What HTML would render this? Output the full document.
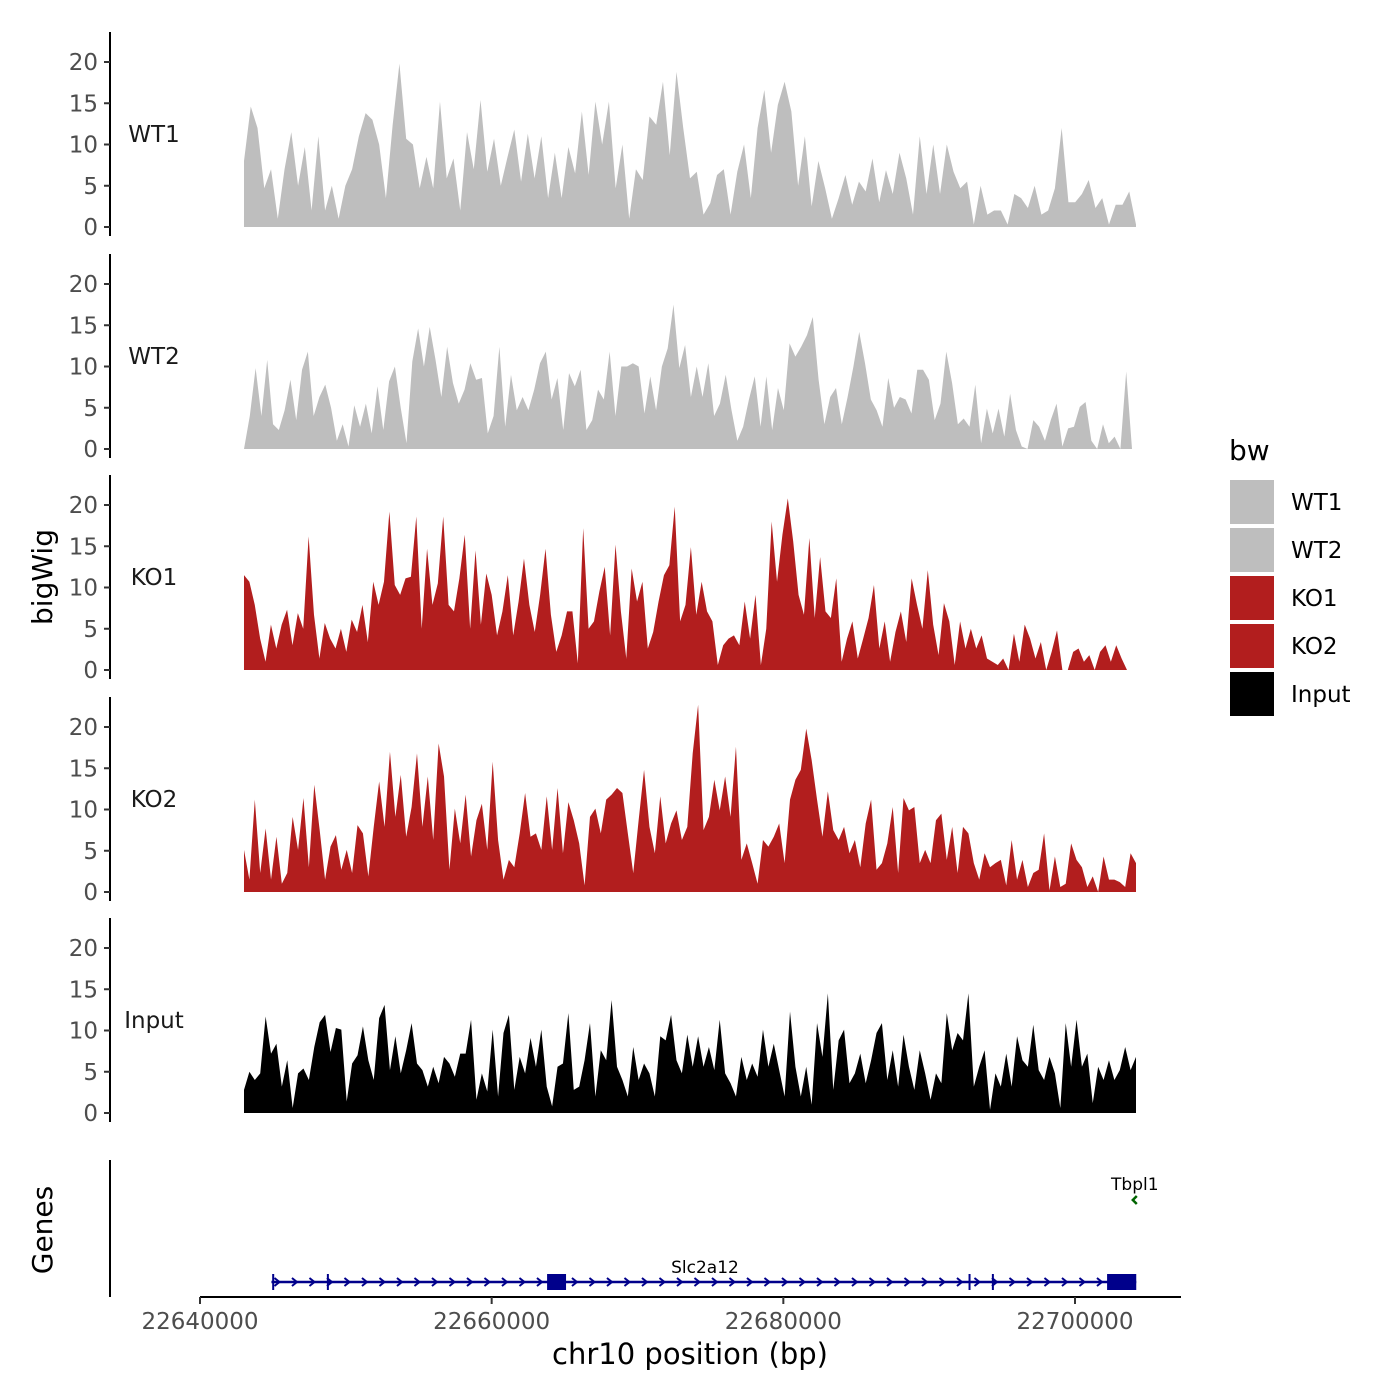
<!DOCTYPE html>
<html><head><meta charset="utf-8"><style>
html,body{margin:0;padding:0;background:#fff;}
svg{display:block;font-family:"DejaVu Sans","Liberation Sans",sans-serif;}
</style></head><body>
<svg id="chart" width="1400" height="1400" viewBox="0 0 1400 1400" xmlns="http://www.w3.org/2000/svg">
<g id="tracks"></g>
<g id="genes"></g>
<text x="52" y="577" font-size="28" text-anchor="middle" transform="rotate(-90 52 577)">bigWig</text>
<text x="52" y="1230" font-size="28" text-anchor="middle" transform="rotate(-90 52 1230)">Genes</text>
<text x="690" y="1364" font-size="29" text-anchor="middle">chr10 position (bp)</text>
<g id="legend">
<text x="1229" y="460" font-size="28">bw</text>
</g>
</svg>
<script>
const trackNames = ["WT1","WT2","KO1","KO2","Input"];
const trackColors = ["#bebebe","#bebebe","#b21e1e","#b21e1e","#000000"];
const trackStart = [22643017,22643017,22643017,22643017,22643017];
const trackEnd = [22704183,22703909,22703566,22704183,22704183];
const yTicks = [0,5,10,15,20];
const xTicks = [22640000,22660000,22680000,22700000];
const wt1 = [8,14.6,12,4.7,7,1,7,11.5,5,9.7,2,11,2,5,1,5,7,11,13.8,13,10,3.5,12.4,19.8,10.7,10,4.7,8.5,4.7,15.2,5.9,8.3,2,11.5,7,15.4,6.7,10.7,5,8.5,11.8,5.5,11.3,5.9,11,3.5,9,3.5,9.7,6.5,14,6.3,15.2,10,15.2,4.7,10,1,7,5.7,13.4,12.4,17.6,8.7,18.8,12,5.9,6.7,1.5,2.9,6.3,7,1.5,6.7,10,3.5,12,16.6,9,14.8,17.6,14,5,11,2.5,8,4.7,1,3.5,6.3,2.7,5.5,4.3,8.3,3,6.9,4,9,5.9,1.5,11,4,10,4,10,6.7,4.7,5.5,0.3,5,1.5,2,2,0.3,4,3.5,2.3,5,1.5,2,4.7,12,3,3,4,5.7,2.3,3.5,0.3,2.7,2.7,4.3,0.3];
const wt2 = [0,4,9.8,4,10.8,3,2.3,4.7,8.4,3.5,9.6,11.8,4,6.3,7.8,5,1,3,0.3,5.3,2.7,5.5,1.9,7.6,2.3,8.2,10,5,0.7,10.6,14.6,10,14.8,10.8,6.3,12.4,8,5.5,7.2,10.4,8.4,8.6,1.9,4,12.4,2.7,9,4.7,6.3,4.7,7.2,10.4,11.8,6,8.6,2.3,9.2,7.6,9.6,2.3,3.5,7.2,6,11.8,4,10,10,10.4,10,4.3,8.8,4.7,10,12.2,17.5,9.8,12.6,6.3,10,6.3,10.4,4,5.5,9,4.7,1,2.7,6,8.8,2.7,8.8,2.3,7.4,4.7,12.8,11.2,12.4,13.8,16,8.4,3,6.3,7.4,3,6.3,10,14.2,10.4,6,4.7,2.7,8.6,5,6.3,6,4.3,9.6,9.6,8.4,3.5,5.5,11.8,8,3,3.7,2.7,7.8,0.7,4.9,1.9,4.9,1.5,6.7,2.3,0.3,0,3.5,2.7,1,3.5,5.5,0.3,2.5,2.7,5.1,5.7,1,0,3,0.7,1.5,0,9.4,0];
const ko1 = [11.5,10.7,7.9,3.8,1,5.5,2.6,5.5,7.3,3,6.9,5,16.2,6.7,1.4,5.7,3.8,2.6,5,2.2,6.1,4.6,7.9,3.4,10.7,7.9,10.7,19.2,10.3,9.1,11.1,11.3,18.6,5,14.7,7.9,10.5,18.6,7.9,7.1,11.1,16.4,5,14.5,5.5,11.7,9.1,4.2,7.1,11.5,4.2,8.3,13.5,7.9,4.6,9.1,14.7,6.7,2.2,4.2,7.1,7.1,0.8,17.2,5,5.9,9.5,12.5,4.2,15.2,7.1,1.4,12.3,8.3,10.7,2.6,4.6,8.3,11.5,12.7,19.8,5.9,7.9,14.9,6.7,10.7,7.1,5.9,0.6,3,3.8,4.2,3,8.3,3.8,9.1,0.6,5,18,10.7,16.4,20.8,15.6,9.1,6.7,16,6.3,13.7,7.1,6.3,11.1,1,3.8,5.9,1.4,3.8,6.3,10.3,2.6,5.9,1,4.6,7.1,3.4,11.1,7.9,5,12.1,5.5,1.8,8.1,5.9,0.6,5.9,2.6,5,2.6,4.2,1.4,1,0.6,1.4,0,4.4,1,5.5,3.8,1.4,3.4,0,2.2,4.8,0,0,2.2,2.6,1,1.8,0,2.2,3,1,3,1.4,0];
const ko2 = [5.1,1.5,11.2,2.3,7.7,1.5,6.7,1,2.3,9.1,5.1,11.4,3,13,7.5,1.5,5.5,6.9,2.7,5.1,2.3,8.1,7.1,1.9,7.9,13.4,7.9,17,9.1,14.2,6.7,10.3,16.8,7.9,14,6.3,18,14,2.7,10.1,5.9,11.8,4.3,8.7,10.7,5.1,15.8,6.3,1.5,3.9,3,7.1,12,6.7,7.1,5.1,11.6,5.1,12.6,4.7,10.9,8.7,5.9,0.8,9.1,10.1,7.1,11.2,11.8,12.6,12,7.1,2.3,8.7,14.8,7.9,4.7,11.6,5.9,8.3,9.9,6.3,7.9,16.8,22.7,7.5,9.1,13.6,9.9,14,9.1,17.6,3.9,5.9,3.5,1,6.3,5.5,6.7,8.3,3.5,11.2,13.6,14.8,19.8,16,11.2,6.7,12.2,7.5,6.3,7.9,4.7,6.3,3,8.3,11.2,2.7,3.5,5.9,10.3,2.3,11.4,9.9,10.3,3.5,5.1,3.5,8.7,9.5,3.9,7.9,2.3,7.9,7.1,3.5,1.5,4.7,3,3.5,3.9,0.8,6.3,1.5,3.9,0.6,2.3,2.7,7.1,0.2,4.3,0.6,1,5.9,3.9,3,0.6,1.9,0,4.3,1.5,1.5,1.2,0.6,4.7,3.5];
const input = [2.8,5,4,4.8,11.7,7.2,8.4,3.2,6.4,0.6,4.8,5.4,4,8,11,11.9,7.4,10.3,10.1,1.4,6,7,10.5,6.4,4,11.5,13.1,5.2,9.3,4.8,7.6,10.9,6,5.2,3.2,5.6,3.6,6.8,6,4.4,7.2,7.2,11.3,1.6,4.8,2.6,10.1,2,9.7,11.9,2.8,6.8,4.8,9.1,5.6,10.1,3.2,0.8,5.6,6,12.1,2.8,3.2,6.4,10.9,2,7.6,6.4,13.7,5.6,4,2,8,4,6,4.8,2,9.3,8.8,11.9,6.4,4.8,9.5,5.6,9.3,5.6,8,5.2,11.3,4.8,3.6,2,6.8,4,6,4.4,10.1,5.6,8.4,5.2,2,12.3,5.6,2,5.6,1,10.9,6.8,14.5,2.8,8.8,10.1,3.6,4.8,7.2,3.6,6.4,9.7,10.9,4,7.6,3.2,9.5,5.6,2.8,7.6,4.8,1.6,4.8,3.6,12.1,7.6,9.7,8.8,14.5,3.2,5.6,7.6,0.4,4.8,3.2,7.2,3.2,9.3,6.4,5.6,10.7,5.2,4,6.8,4.8,0.6,10.9,5.6,11.3,5.6,7.2,1.2,5.6,4,6.4,4,5.2,8,5.2,6.8];
const trackValues = [wt1,wt2,ko1,ko2,input];
const legendLabels = ["WT1","WT2","KO1","KO2","Input"];
const legendColors = ["#bebebe","#bebebe","#b21e1e","#b21e1e","#000000"];
const geneName = "Slc2a12";
const geneStart = 22644900, geneEnd = 22704200;
const exonStarts = [22644950,22648700,22663800,22692700,22694300,22702200];
const exonEnds = [22645050,22648750,22665100,22692750,22694350,22704200];
const gene2Name = "Tbpl1", gene2Pos = 22704100;

const NS = "http://www.w3.org/2000/svg";
const xScale = bp => 200 + (bp - 22640000) / 60000 * 875;
const zeros = [227, 449, 670, 892, 1113];
const pxPerUnit = 8.25;
function mk(tag, attrs, parent){ const e=document.createElementNS(NS,tag); for(const k in attrs) e.setAttribute(k,attrs[k]); parent.appendChild(e); return e; }

const tracks = document.getElementById('tracks');
trackNames.forEach((name, t) => {
  const z = zeros[t];
  const yScale = v => z - v * pxPerUnit;
  const g = mk('g', {}, tracks);
  
  
  const vals = trackValues[t];
  const n = vals.length;
  let d = 'M' + xScale(trackStart[t]) + ',' + z;
  vals.forEach((v, i) => {
    const bp = trackStart[t] + (trackEnd[t] - trackStart[t]) * i / (n - 1);
    d += ' L' + xScale(bp).toFixed(2) + ',' + yScale(v).toFixed(2);
  });
  d += ' L' + xScale(trackEnd[t]) + ',' + z + ' Z';
  const area = mk('path', {d: d, fill: trackColors[t], stroke: 'none'}, g);
  
  
  const axis = mk('line', {x1:110, x2:110, y1: z + 9, y2: z - 195, stroke:'#000', 'stroke-width':2}, g);
  
  
  yTicks.forEach(tv => {
    const y = yScale(tv);
    const tk = mk('line', {x1:104, x2:110, y1:y, y2:y, stroke:'#333', 'stroke-width':2}, g);
    
    
    const lb = mk('text', {x:98, y:y + 8, 'font-size':23, fill:'#4d4d4d', 'text-anchor':'end'}, g);
    lb.textContent = tv;
    
    
  });
  const tl = mk('text', {x:154, y: z - 85, 'font-size':23, 'text-anchor':'middle', fill:'#1a1a1a'}, g);
  tl.textContent = name;
  
  
});

const genes = document.getElementById('genes');
const gl = mk('line', {x1:110, x2:110, y1:1160, y2:1297, stroke:'#000', 'stroke-width':2}, genes);


const xa = mk('line', {x1:200, x2:1181, y1:1297, y2:1297, stroke:'#000', 'stroke-width':2}, genes);


xTicks.forEach(tv => {
  const x = xScale(tv);
  const tk = mk('line', {x1:x, x2:x, y1:1297, y2:1304, stroke:'#333', 'stroke-width':2}, genes);
  
  
  const lb = mk('text', {x:x, y:1329, 'font-size':23, fill:'#4d4d4d', 'text-anchor':'middle'}, genes);
  lb.textContent = tv;
  
  
});
const gy = 1282;
const gline = mk('line', {x1:xScale(geneStart), x2:xScale(geneEnd), y1:gy, y2:gy, stroke:'#00008b', 'stroke-width':2.5}, genes);


for (let x = xScale(geneStart) + 6; x < xScale(geneEnd) - 4; x += 17.5) {
  const ch = mk('path', {d:`M${x-3},${gy-4} L${x+2},${gy} L${x-3},${gy+4}`, fill:'none', stroke:'#00008b', 'stroke-width':2}, genes);
  
  
}
exonStarts.forEach((s, i) => {
  const x1 = xScale(s), x2 = Math.max(xScale(exonEnds[i]), x1 + 2);
  const r = mk('rect', {x:x1, y:gy - 8, width:x2 - x1, height:16, fill:'#00008b'}, genes);
  
  
});
const gn = mk('text', {x:705, y:1273, 'font-size':17, 'text-anchor':'middle'}, genes);
gn.textContent = geneName;


const g2 = mk('text', {x:xScale(gene2Pos), y:1190, 'font-size':17, 'text-anchor':'middle'}, genes);
g2.textContent = gene2Name;


const g2a = mk('path', {d:`M${xScale(gene2Pos)+2},${1196} L${xScale(gene2Pos)-2},${1200} L${xScale(gene2Pos)+2},${1204}`, fill:'none', stroke:'#006400', 'stroke-width':2.5}, genes);



const legend = document.getElementById('legend');
legendLabels.forEach((lab, i) => {
  const y = 480 + i * 48;
  const r = mk('rect', {x:1230, y:y, width:44, height:44, fill:legendColors[i]}, legend);
  
  
  const t = mk('text', {x:1291, y:y + 30, 'font-size':23}, legend);
  t.textContent = lab;
  
  
});
</script>
</body></html>
